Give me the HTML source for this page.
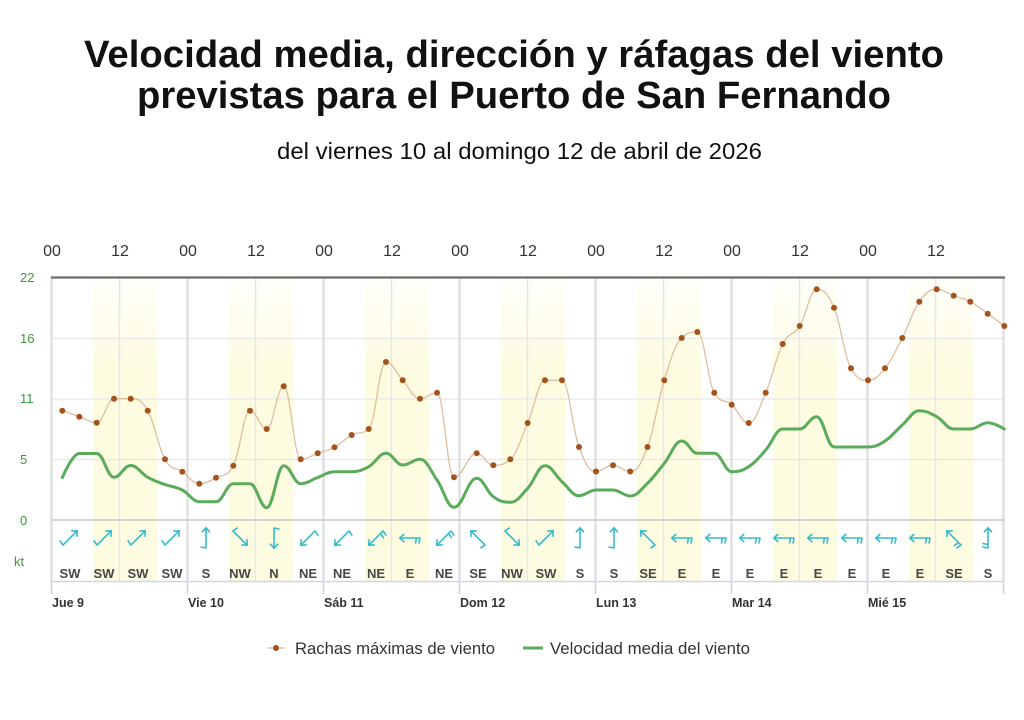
<!DOCTYPE html>
<html><head><meta charset="utf-8"><style>
html,body{margin:0;padding:0;background:#fff;}
svg{display:block;font-family:"Liberation Sans",Arial,sans-serif;}
</style></head><body>
<svg id="c" width="1024" height="720" viewBox="0 0 1024 720" xmlns="http://www.w3.org/2000/svg">
<defs>
<linearGradient id="yb" x1="0" y1="0" x2="0" y2="1">
<stop offset="0" stop-color="#fdfbe0" stop-opacity="0.15"/>
<stop offset="0.3" stop-color="#fdfbe0" stop-opacity="1"/>
<stop offset="1" stop-color="#fdfbe0" stop-opacity="1"/>
</linearGradient>
<g id="a1" fill="none" stroke="#35bccb" stroke-width="1.6" stroke-linecap="round">
<path d="M0,10 L0,-10 M-3.6,-6.2 L0,-10.2 L3.6,-6.2 M0,10 L-5,9"/>
</g>
<g id="a2" fill="none" stroke="#35bccb" stroke-width="1.6" stroke-linecap="round">
<path d="M0,10 L0,-10 M-3.6,-6.2 L0,-10.2 L3.6,-6.2 M0,10 L-5,9 M0,6.5 L-5,5.5"/>
</g>
</defs>
<rect width="1024" height="720" fill="#fff"/>

<!-- Titles -->
<text x="514" y="67" text-anchor="middle" font-size="38" font-weight="bold" fill="#111" textLength="860" lengthAdjust="spacingAndGlyphs">Velocidad media, dirección y ráfagas del viento</text>
<text x="514" y="108" text-anchor="middle" font-size="38" font-weight="bold" fill="#111" textLength="754" lengthAdjust="spacingAndGlyphs">previstas para el Puerto de San Fernando</text>
<text x="519.5" y="159" text-anchor="middle" font-size="23" fill="#111" textLength="485" lengthAdjust="spacingAndGlyphs">del viernes 10 al domingo 12 de abril de 2026</text>

<!-- daylight bands -->
<g fill="url(#yb)">
<rect x="93" y="278" width="64" height="303"/>
<rect x="229" y="278" width="64" height="303"/>
<rect x="365" y="278" width="64" height="303"/>
<rect x="501" y="278" width="64" height="303"/>
<rect x="637" y="278" width="64" height="303"/>
<rect x="773" y="278" width="64" height="303"/>
<rect x="909" y="278" width="64" height="303"/>
</g>

<!-- horizontal grid -->
<g stroke="#e8e8e8" stroke-width="1.2">
<line x1="52" y1="338.5" x2="1004" y2="338.5"/>
<line x1="52" y1="399" x2="1004" y2="399"/>
<line x1="52" y1="459.5" x2="1004" y2="459.5"/>
</g>
<!-- 12h lines -->
<g stroke="#e6e6e6" stroke-width="1.5">
<line x1="119.5" y1="277" x2="119.5" y2="581"/>
<line x1="255.5" y1="277" x2="255.5" y2="581"/>
<line x1="391.5" y1="277" x2="391.5" y2="581"/>
<line x1="527.5" y1="277" x2="527.5" y2="581"/>
<line x1="663.5" y1="277" x2="663.5" y2="581"/>
<line x1="799.5" y1="277" x2="799.5" y2="581"/>
<line x1="935.5" y1="277" x2="935.5" y2="581"/>
</g>
<!-- day lines -->
<g stroke="#dadada" stroke-width="2">
<line x1="51.5" y1="277" x2="51.5" y2="581"/>
<line x1="187.5" y1="277" x2="187.5" y2="581"/>
<line x1="323.5" y1="277" x2="323.5" y2="581"/>
<line x1="459.5" y1="277" x2="459.5" y2="581"/>
<line x1="595.5" y1="277" x2="595.5" y2="581"/>
<line x1="731.5" y1="277" x2="731.5" y2="581"/>
<line x1="867.5" y1="277" x2="867.5" y2="581"/>
<line x1="1003.5" y1="277" x2="1003.5" y2="581"/>
</g>
<!-- zero line -->
<line x1="52" y1="520" x2="1004" y2="520" stroke="#c8c8c8" stroke-width="1.6"/>
<!-- top border -->
<line x1="51" y1="277.5" x2="1005" y2="277.5" stroke="#6b6b6b" stroke-width="2.2"/>

<!-- bottom axis -->
<g stroke="#ccd6eb" stroke-width="1.6">
<line x1="51" y1="581.5" x2="1004.5" y2="581.5"/>
<line x1="51.5" y1="581" x2="51.5" y2="594"/>
<line x1="187.5" y1="581" x2="187.5" y2="594"/>
<line x1="323.5" y1="581" x2="323.5" y2="594"/>
<line x1="459.5" y1="581" x2="459.5" y2="594"/>
<line x1="595.5" y1="581" x2="595.5" y2="594"/>
<line x1="731.5" y1="581" x2="731.5" y2="594"/>
<line x1="867.5" y1="581" x2="867.5" y2="594"/>
<line x1="1003.5" y1="581" x2="1003.5" y2="594"/>
</g>

<!-- top hour labels -->
<g font-size="16" fill="#333" text-anchor="middle">
<text x="52" y="256">00</text><text x="120" y="256">12</text>
<text x="188" y="256">00</text><text x="256" y="256">12</text>
<text x="324" y="256">00</text><text x="392" y="256">12</text>
<text x="460" y="256">00</text><text x="528" y="256">12</text>
<text x="596" y="256">00</text><text x="664" y="256">12</text>
<text x="732" y="256">00</text><text x="800" y="256">12</text>
<text x="868" y="256">00</text><text x="936" y="256">12</text>
</g>

<!-- y labels -->
<g font-size="13" fill="#3a9a3a">
<text x="20" y="282">22</text>
<text x="20" y="343">16</text>
<text x="20" y="403">11</text>
<text x="20" y="464">5</text>
<text x="20" y="525">0</text>
<text x="14" y="566">kt</text>
</g>

<!-- day labels -->
<g font-size="12.5" font-weight="bold" fill="#333">
<text x="52" y="607">Jue 9</text>
<text x="188" y="607">Vie 10</text>
<text x="324" y="607">Sáb 11</text>
<text x="460" y="607">Dom 12</text>
<text x="596" y="607">Lun 13</text>
<text x="732" y="607">Mar 14</text>
<text x="868" y="607">Mié 15</text>
</g>

<!-- direction labels -->
<g font-size="13" font-weight="bold" fill="#474747" text-anchor="middle">
<text x="70" y="578">SW</text><text x="104" y="578">SW</text><text x="138" y="578">SW</text><text x="172" y="578">SW</text>
<text x="206" y="578">S</text><text x="240" y="578">NW</text><text x="274" y="578">N</text><text x="308" y="578">NE</text>
<text x="342" y="578">NE</text><text x="376" y="578">NE</text><text x="410" y="578">E</text><text x="444" y="578">NE</text>
<text x="478" y="578">SE</text><text x="512" y="578">NW</text><text x="546" y="578">SW</text><text x="580" y="578">S</text>
<text x="614" y="578">S</text><text x="648" y="578">SE</text><text x="682" y="578">E</text><text x="716" y="578">E</text>
<text x="750" y="578">E</text><text x="784" y="578">E</text><text x="818" y="578">E</text><text x="852" y="578">E</text>
<text x="886" y="578">E</text><text x="920" y="578">E</text><text x="954" y="578">SE</text><text x="988" y="578">S</text>
</g>

<!-- arrows -->
<g>
<use href="#a1" transform="translate(70,538) rotate(45)"/>
<use href="#a1" transform="translate(104,538) rotate(45)"/>
<use href="#a1" transform="translate(138,538) rotate(45)"/>
<use href="#a1" transform="translate(172,538) rotate(45)"/>
<use href="#a1" transform="translate(206,538) rotate(0)"/>
<use href="#a1" transform="translate(240,538) rotate(135)"/>
<use href="#a1" transform="translate(274,538) rotate(180)"/>
<use href="#a1" transform="translate(308,538) rotate(225)"/>
<use href="#a1" transform="translate(342,538) rotate(225)"/>
<use href="#a2" transform="translate(376,538) rotate(225)"/>
<use href="#a2" transform="translate(410,538) rotate(270)"/>
<use href="#a2" transform="translate(444,538) rotate(225)"/>
<use href="#a1" transform="translate(478,538) rotate(315)"/>
<use href="#a1" transform="translate(512,538) rotate(135)"/>
<use href="#a1" transform="translate(546,538) rotate(45)"/>
<use href="#a1" transform="translate(580,538) rotate(0)"/>
<use href="#a1" transform="translate(614,538) rotate(0)"/>
<use href="#a1" transform="translate(648,538) rotate(315)"/>
<use href="#a2" transform="translate(682,538) rotate(270)"/>
<use href="#a2" transform="translate(716,538) rotate(270)"/>
<use href="#a2" transform="translate(750,538) rotate(270)"/>
<use href="#a2" transform="translate(784,538) rotate(270)"/>
<use href="#a2" transform="translate(818,538) rotate(270)"/>
<use href="#a2" transform="translate(852,538) rotate(270)"/>
<use href="#a2" transform="translate(886,538) rotate(270)"/>
<use href="#a2" transform="translate(920,538) rotate(270)"/>
<use href="#a2" transform="translate(954,538) rotate(315)"/>
<use href="#a2" transform="translate(988,538) rotate(0)"/>
</g>

<!-- series -->
<path id="gust" fill="none" stroke="#dcbf9f" stroke-width="1.3" d="M62.3,410.7 L79.3,416.7 L96.7,422.7 L114,398.7 L130.7,398.7 L147.7,410.7 L165,459.3 L182.3,471.7 L199.3,483.7 L216,477.7 L233.3,465.7 L250,410.7 L266.7,429 L283.7,386.3 L300.7,459.3 L317.7,453.3 L334.5,447.2 L351.7,435 L368.7,429 L386,362 L402.7,380.3 L420,398.7 L437,392.7 L454,477.3 L476.7,453.3 L493.3,465.3 L510.3,459.3 L527.7,423 L545,380.3 L562,380.3 L579,447 L596,471.5 L613,465.3 L630.2,471.5 L647.5,447 L664.3,380.3 L681.7,338 L697.3,332 L714.3,392.7 L731.7,404.7 L748.7,423 L765.7,392.7 L782.7,344 L799.7,326 L816.7,289.3 L834,307.7 L851,368.3 L868,380.3 L885,368.3 L902.3,338 L919.3,301.7 L936.7,289.3 L953.7,295.7 L970.3,301.7 L987.7,313.7 L1004.3,326"/>
<path id="mean" fill="none" stroke="#5aab5a" stroke-width="3" stroke-linejoin="round" stroke-linecap="round" d="M62.3,477.5 L79.3,453.5 L96.7,453.5 L114,477.3 L130.7,465.5 L147.7,477.3 L165,484.5 L182.3,490 L199.3,501.7 L216,501.7 L233.3,483.7 L250,483.7 L266.7,507.7 L283.7,465.7 L300.7,483.7 L317.7,477.5 L334.5,471.7 L351.7,471.7 L368.7,466.7 L386,453.3 L402.7,465 L420,459.3 L437,480 L454,507.3 L476.7,478.3 L493.3,496.7 L510.3,502.3 L527.7,488.3 L545,465.7 L562,481.7 L579,495.7 L596,490 L613,490 L630.2,496 L647.5,483.3 L664.3,463.3 L681.7,441 L697.3,453.3 L714.3,453.3 L731.7,471.7 L748.7,466.7 L765.7,450 L782.7,429 L799.7,429 L816.7,416.7 L834,447 L851,447 L868,447 L885,441 L902.3,425 L919.3,410.7 L936.7,416.7 L953.7,429 L970.3,429 L987.7,422.7 L1004.3,429"/>
<g id="dots" fill="#a4531c">
<circle cx="62.3" cy="410.7" r="3"/><circle cx="79.3" cy="416.7" r="3"/><circle cx="96.7" cy="422.7" r="3"/><circle cx="114" cy="398.7" r="3"/>
<circle cx="130.7" cy="398.7" r="3"/><circle cx="147.7" cy="410.7" r="3"/><circle cx="165" cy="459.3" r="3"/><circle cx="182.3" cy="471.7" r="3"/>
<circle cx="199.3" cy="483.7" r="3"/><circle cx="216" cy="477.7" r="3"/><circle cx="233.3" cy="465.7" r="3"/><circle cx="250" cy="410.7" r="3"/>
<circle cx="266.7" cy="429" r="3"/><circle cx="283.7" cy="386.3" r="3"/><circle cx="300.7" cy="459.3" r="3"/><circle cx="317.7" cy="453.3" r="3"/>
<circle cx="334.5" cy="447.2" r="3"/><circle cx="351.7" cy="435" r="3"/><circle cx="368.7" cy="429" r="3"/><circle cx="386" cy="362" r="3"/>
<circle cx="402.7" cy="380.3" r="3"/><circle cx="420" cy="398.7" r="3"/><circle cx="437" cy="392.7" r="3"/><circle cx="454" cy="477.3" r="3"/>
<circle cx="476.7" cy="453.3" r="3"/><circle cx="493.3" cy="465.3" r="3"/><circle cx="510.3" cy="459.3" r="3"/><circle cx="527.7" cy="423" r="3"/>
<circle cx="545" cy="380.3" r="3"/><circle cx="562" cy="380.3" r="3"/><circle cx="579" cy="447" r="3"/><circle cx="596" cy="471.5" r="3"/>
<circle cx="613" cy="465.3" r="3"/><circle cx="630.2" cy="471.5" r="3"/><circle cx="647.5" cy="447" r="3"/><circle cx="664.3" cy="380.3" r="3"/>
<circle cx="681.7" cy="338" r="3"/><circle cx="697.3" cy="332" r="3"/><circle cx="714.3" cy="392.7" r="3"/><circle cx="731.7" cy="404.7" r="3"/>
<circle cx="748.7" cy="423" r="3"/><circle cx="765.7" cy="392.7" r="3"/><circle cx="782.7" cy="344" r="3"/><circle cx="799.7" cy="326" r="3"/>
<circle cx="816.7" cy="289.3" r="3"/><circle cx="834" cy="307.7" r="3"/><circle cx="851" cy="368.3" r="3"/><circle cx="868" cy="380.3" r="3"/>
<circle cx="885" cy="368.3" r="3"/><circle cx="902.3" cy="338" r="3"/><circle cx="919.3" cy="301.7" r="3"/><circle cx="936.7" cy="289.3" r="3"/>
<circle cx="953.7" cy="295.7" r="3"/><circle cx="970.3" cy="301.7" r="3"/><circle cx="987.7" cy="313.7" r="3"/><circle cx="1004.3" cy="326" r="3"/>
</g>

<!-- legend -->
<line x1="267" y1="648" x2="285" y2="648" stroke="#dcbf9f" stroke-width="1.3"/>
<circle cx="276" cy="648" r="3" fill="#a4531c"/>
<text x="295" y="654" font-size="16.5" fill="#333" textLength="200" lengthAdjust="spacingAndGlyphs">Rachas máximas de viento</text>
<line x1="523" y1="648" x2="543" y2="648" stroke="#5aab5a" stroke-width="3"/>
<text x="550" y="654" font-size="16.5" fill="#333" textLength="200" lengthAdjust="spacingAndGlyphs">Velocidad media del viento</text>
</svg>
<script>
(function(){
function parse(d){return d.replace(/[ML]/g,' ').trim().split(/\s+/).map(function(p){var a=p.split(',');return [parseFloat(a[0]),parseFloat(a[1])];});}
function spline(pts){
 var s=1.5,den=s+1,lc=[],rc=[];
 for(var i=0;i<pts.length;i++){
  var x=pts[i][0],y=pts[i][1];
  if(i===0||i===pts.length-1){lc[i]=[x,y];rc[i]=[x,y];continue;}
  var lx=pts[i-1][0],ly=pts[i-1][1],nx=pts[i+1][0],ny=pts[i+1][1];
  var lcx=(s*x+lx)/den,lcy=(s*y+ly)/den,rcx=(s*x+nx)/den,rcy=(s*y+ny)/den;
  var corr=((rcy-lcy)*(rcx-x))/(rcx-lcx)+y-rcy;
  lcy+=corr;rcy+=corr;
  if(lcy>ly&&lcy>y){lcy=Math.max(ly,y);rcy=2*y-lcy;}else if(lcy<ly&&lcy<y){lcy=Math.min(ly,y);rcy=2*y-lcy;}
  if(rcy>ny&&rcy>y){rcy=Math.max(ny,y);lcy=2*y-rcy;}else if(rcy<ny&&rcy<y){rcy=Math.min(ny,y);lcy=2*y-rcy;}
  lc[i]=[lcx,lcy];rc[i]=[rcx,rcy];
 }
 var d='M'+pts[0][0]+','+pts[0][1];
 for(var j=1;j<pts.length;j++){
  d+=' C'+rc[j-1][0].toFixed(2)+','+rc[j-1][1].toFixed(2)+' '+lc[j][0].toFixed(2)+','+lc[j][1].toFixed(2)+' '+pts[j][0]+','+pts[j][1];
 }
 return d;
}
['gust','mean'].forEach(function(id){
 var el=document.getElementById(id);
 try{el.setAttribute('d',spline(parse(el.getAttribute('d'))));}catch(e){}
});
})();
</script>
</body></html>
